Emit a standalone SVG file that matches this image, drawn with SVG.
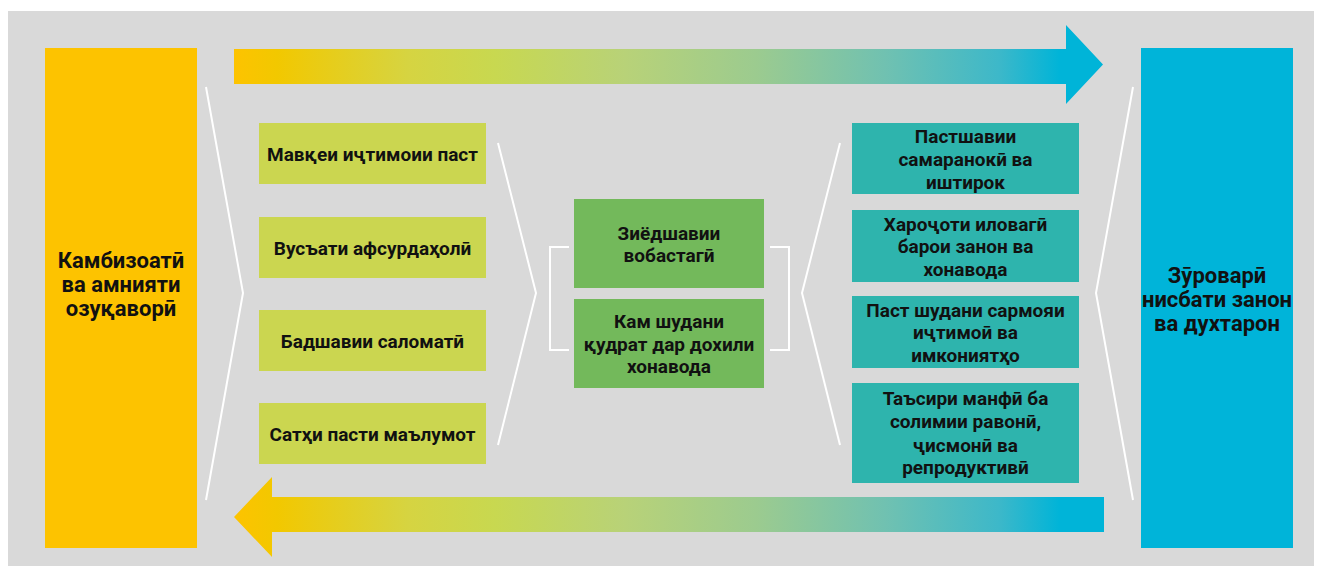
<svg xmlns="http://www.w3.org/2000/svg" width="1320" height="572" viewBox="0 0 1320 572">
<style>
.t{font-family:Roboto,"Noto Sans","DejaVu Sans",sans-serif;font-weight:bold;font-size:19px;fill:#111;text-anchor:middle}
.big{font-size:22px}
.ln{fill:none;stroke:#fff;stroke-width:2}
.g1{fill:#cbd650}
.g2{fill:#73b95b}
.g3{fill:#2eb4ad}
</style>
<defs>
<linearGradient id="grad" gradientUnits="userSpaceOnUse" x1="234" y1="0" x2="1103" y2="0">
<stop offset="0" stop-color="#fdc300"/>
<stop offset="0.05" stop-color="#f2c800"/>
<stop offset="0.2" stop-color="#d6d441"/>
<stop offset="0.3" stop-color="#c8d850"/>
<stop offset="0.45" stop-color="#b8d278"/>
<stop offset="0.6" stop-color="#9ccb8f"/>
<stop offset="0.75" stop-color="#70c1b1"/>
<stop offset="0.88" stop-color="#3db8c9"/>
<stop offset="0.95" stop-color="#00b4d8"/>
<stop offset="1" stop-color="#00b4d8"/>
</linearGradient>
</defs>
<rect x="8" y="11" width="1306" height="555" fill="#d9d9d9"/>
<g id="connectors">
<polygon id="arrow-top" fill="url(#grad)" points="234,49 1066,49 1066,25 1103,64.5 1066,104 1066,84 234,84"/>
<polygon id="arrow-bottom" fill="url(#grad)" points="1104,497 272,497 272,477 234,517 272,557 272,532 1104,532"/>
<polyline class="ln" points="206,87 243,293 206,500"/>
<polyline class="ln" points="498,143 536,293 498,445"/>
<polyline class="ln" points="840,143 802,293 840,445"/>
<polyline class="ln" points="1133,87 1096,293 1133,500"/>
<polyline class="ln" points="569,247 550,247 550,350 569,350"/>
<polyline class="ln" points="770,247 789,247 789,350 770,350"/>
</g>
<g id="node-left">
<rect x="45" y="48" width="152" height="500" fill="#fdc300"/>
<text class="t big" x="121" y="268">Камбизоатӣ</text>
<text class="t big" x="121" y="292">ва амнияти</text>
<text class="t big" x="121" y="316">озуқаворӣ</text>
</g>
<g id="node-right">
<rect x="1141" y="48" width="152" height="500" fill="#00b4d9"/>
<text class="t big" x="1217" y="283">Зӯроварӣ</text>
<text class="t big" x="1217" y="307">нисбати занон</text>
<text class="t big" x="1217" y="331">ва духтарон</text>
</g>
<g id="node-l1">
<rect class="g1" x="259" y="123" width="227" height="61"/>
<text class="t" x="372.5" y="161">Мавқеи иҷтимоии паст</text>
</g>
<g id="node-l2">
<rect class="g1" x="259" y="217" width="227" height="61"/>
<text class="t" x="372.5" y="255">Вусъати афсурдаҳолӣ</text>
</g>
<g id="node-l3">
<rect class="g1" x="259" y="310" width="227" height="61"/>
<text class="t" x="372.5" y="348">Бадшавии саломатӣ</text>
</g>
<g id="node-l4">
<rect class="g1" x="259" y="403" width="227" height="61"/>
<text class="t" x="372.5" y="441">Сатҳи пасти маълумот</text>
</g>
<g id="node-c1">
<rect class="g2" x="574" y="199" width="190" height="89"/>
<text class="t" x="669" y="240">Зиёдшавии</text>
<text class="t" x="669" y="262">вобастагӣ</text>
</g>
<g id="node-c2">
<rect class="g2" x="574" y="299" width="190" height="89"/>
<text class="t" x="669" y="328">Кам шудани</text>
<text class="t" x="669" y="351">қудрат дар дохили</text>
<text class="t" x="669" y="373">хонавода</text>
</g>
<g id="node-r1">
<rect class="g3" x="852" y="123" width="227" height="71"/>
<text class="t" x="965.5" y="143">Пастшавии</text>
<text class="t" x="965.5" y="166">самаранокӣ ва</text>
<text class="t" x="965.5" y="189">иштирок</text>
</g>
<g id="node-r2">
<rect class="g3" x="852" y="210" width="227" height="72"/>
<text class="t" x="965.5" y="231">Хароҷоти иловагӣ</text>
<text class="t" x="965.5" y="253">барои занон ва</text>
<text class="t" x="965.5" y="276">хонавода</text>
</g>
<g id="node-r3">
<rect class="g3" x="852" y="296" width="227" height="72"/>
<text class="t" x="965.5" y="317">Паст шудани сармояи</text>
<text class="t" x="965.5" y="339">иҷтимоӣ ва</text>
<text class="t" x="965.5" y="362">имкониятҳо</text>
</g>
<g id="node-r4">
<rect class="g3" x="852" y="383" width="227" height="100"/>
<text class="t" x="965.5" y="405">Таъсири манфӣ ба</text>
<text class="t" x="965.5" y="428">солимии равонӣ,</text>
<text class="t" x="965.5" y="452">ҷисмонӣ ва</text>
<text class="t" x="965.5" y="474">репродуктивӣ</text>
</g>
</svg>
